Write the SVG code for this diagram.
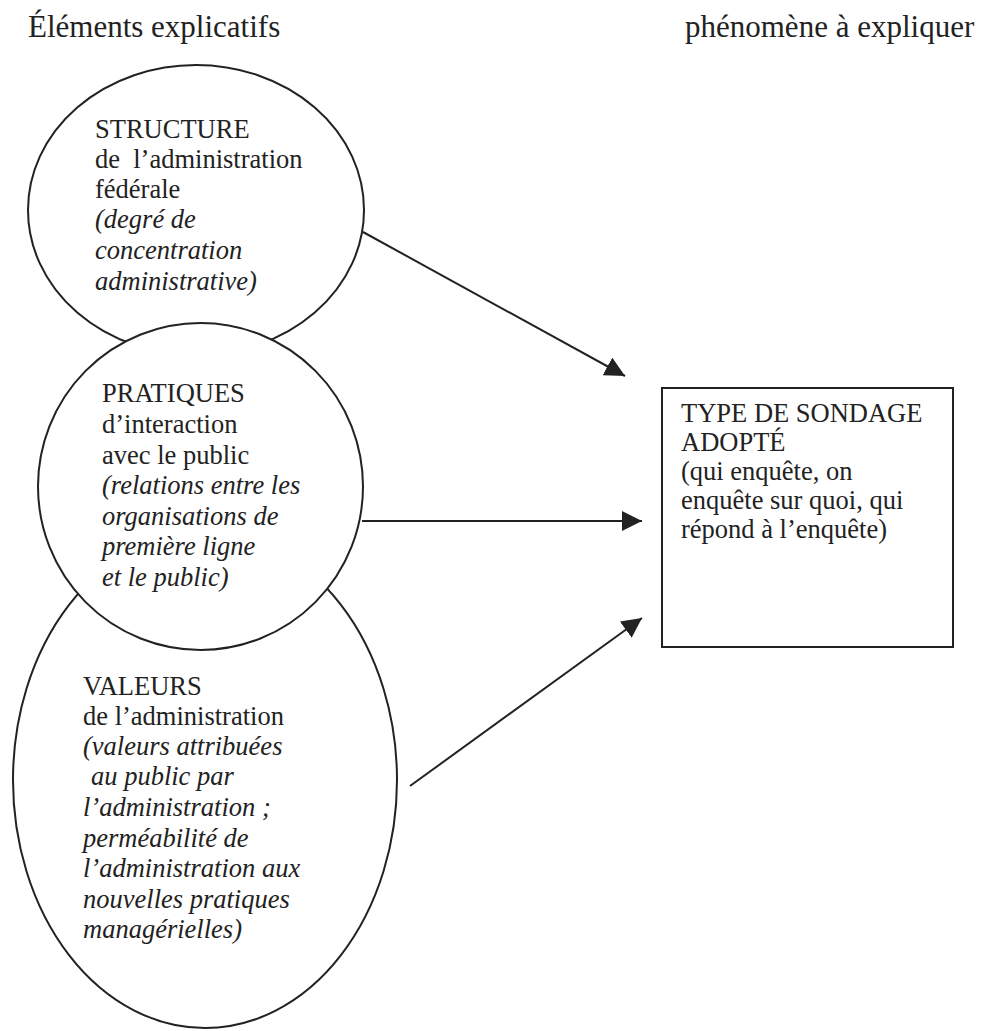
<svg xmlns="http://www.w3.org/2000/svg" width="990" height="1031" viewBox="0 0 990 1031">
<style>
text{font-family:"Liberation Serif","Times New Roman",serif;fill:#222;font-size:26.5px}
.t{font-size:31px}
.i{font-style:italic}
.n{fill:#fff;stroke:#222;stroke-width:2}
.c{stroke:#222;stroke-width:2;fill:none}
</style>
<defs>
<marker id="ah" markerUnits="userSpaceOnUse" markerWidth="20" markerHeight="20" refX="20" refY="10" orient="auto" viewBox="0 0 20 20">
<path d="M0,0 L20,10 L0,20 z" fill="#222"/>
</marker>
</defs>
<rect width="990" height="1031" fill="#fff"/>
<text class="t" x="28" y="37">Éléments explicatifs</text>
<text class="t" x="685" y="37">phénomène à expliquer</text>
<g id="structure">
<ellipse class="n" cx="196" cy="210" rx="168" ry="145"/>
<text x="95" y="138">STRUCTURE</text>
<text x="95" y="168" xml:space="preserve">de  l’administration</text>
<text x="95" y="198">fédérale</text>
<text class="i" x="95" y="228">(degré de</text>
<text class="i" x="95" y="259">concentration</text>
<text class="i" x="95" y="290">administrative)</text>
</g>
<g id="valeurs">
<ellipse class="n" cx="205" cy="780" rx="192" ry="248"/>
<text x="83" y="695">VALEURS</text>
<text x="83" y="725">de l’administration</text>
<text class="i" x="83" y="755">(valeurs attribuées</text>
<text class="i" x="91" y="785">au public par</text>
<text class="i" x="83" y="816">l’administration ;</text>
<text class="i" x="83" y="847">perméabilité de</text>
<text class="i" x="83" y="877">l’administration aux</text>
<text class="i" x="83" y="908">nouvelles pratiques</text>
<text class="i" x="83" y="938">managérielles)</text>
</g>
<g id="pratiques">
<ellipse class="n" cx="200.5" cy="486.5" rx="162.5" ry="163.5"/>
<text x="102" y="402">PRATIQUES</text>
<text x="102" y="433">d’interaction</text>
<text x="102" y="464">avec le public</text>
<text class="i" x="102" y="494">(relations entre les</text>
<text class="i" x="102" y="525">organisations de</text>
<text class="i" x="102" y="555">première ligne</text>
<text class="i" x="102" y="586">et le public)</text>
</g>
<g id="type-sondage">
<rect class="n" x="662" y="388" width="291" height="259"/>
<text x="681" y="422">TYPE DE SONDAGE</text>
<text x="681" y="451">ADOPTÉ</text>
<text x="681" y="480">(qui enquête, on</text>
<text x="681" y="509">enquête sur quoi, qui</text>
<text x="681" y="538">répond à l’enquête)</text>
</g>
<g id="connectors">
<line class="c" x1="363" y1="232" x2="625" y2="376" marker-end="url(#ah)"/>
<line class="c" x1="362" y1="521" x2="642" y2="521" marker-end="url(#ah)"/>
<line class="c" x1="410" y1="786" x2="642" y2="618" marker-end="url(#ah)"/>
</g>
</svg>
